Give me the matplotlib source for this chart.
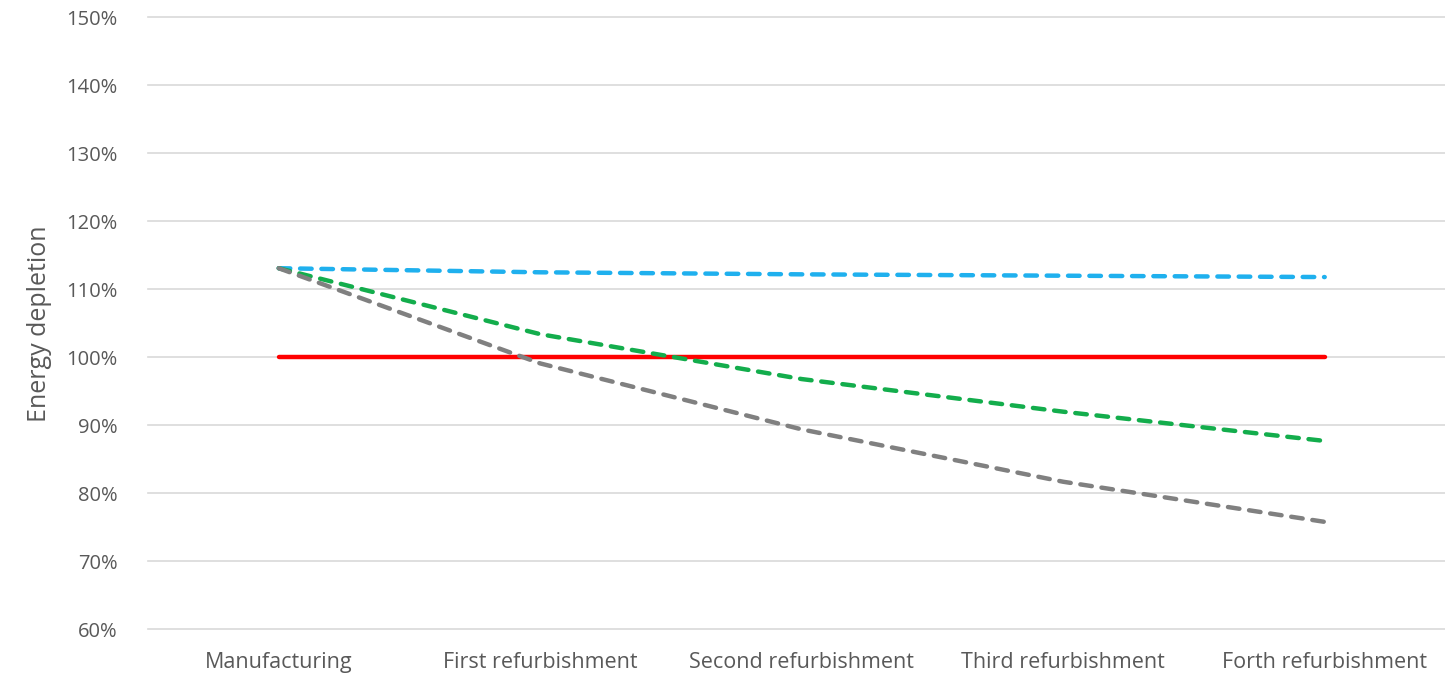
import numpy as np
import matplotlib.pyplot as plt
from matplotlib.ticker import PercentFormatter

plt.rcParams['font.family'] = ['Open Sans', 'DejaVu Sans']

stages = ["Manufacturing", "First refurbishment", "Second refurbishment",
          "Third refurbishment", "Forth refurbishment"]
baseline = [100, 100, 100, 100, 100]
blue = [113.1, 112.5, 112.2, 112.0, 111.8]
green = [113.1, 103.4, 96.8, 92.0, 87.7]
gray = [113.1, 99.1, 89.4, 81.7, 75.8]

x = np.arange(len(stages))
txt = '#595959'

fig = plt.figure(figsize=(14.45, 6.78), dpi=100)
ax = fig.add_axes([148 / 1445, 0.0718, 1 - 148 / 1445, 0.9745 - 0.0718])

ax.plot(x, baseline, color='#FF0000', lw=3.2, solid_capstyle='round', zorder=3)
for vals, col in [(blue, '#1FB0EE'), (green, '#13AD4C'), (gray, '#808080')]:
    ax.plot(x, vals, color=col, lw=3.2, dashes=(2.6, 2.2),
            dash_capstyle='round', zorder=3)

ax.set_xlim(-0.5, 4.46)
ax.set_ylim(60, 150)
ax.set_yticks(np.arange(60, 151, 10))
ax.yaxis.set_major_formatter(PercentFormatter(decimals=0))
ax.set_xticks(x)
ax.set_xticklabels(stages)
ax.grid(axis='y', color='#D9D9D9', lw=1.2)
for gl in ax.get_ygridlines():
    gl.set_clip_on(False)
ax.set_axisbelow(True)
for s in ax.spines.values():
    s.set_visible(False)
ax.tick_params(axis='both', length=0, colors=txt)
ax.tick_params(axis='y', pad=22, labelsize=14.5)
ax.tick_params(axis='x', pad=16, labelsize=15.5)
ax.set_ylabel('Energy depletion', fontsize=18, color=txt, labelpad=10)

fig.savefig('out.png', dpi=100)
